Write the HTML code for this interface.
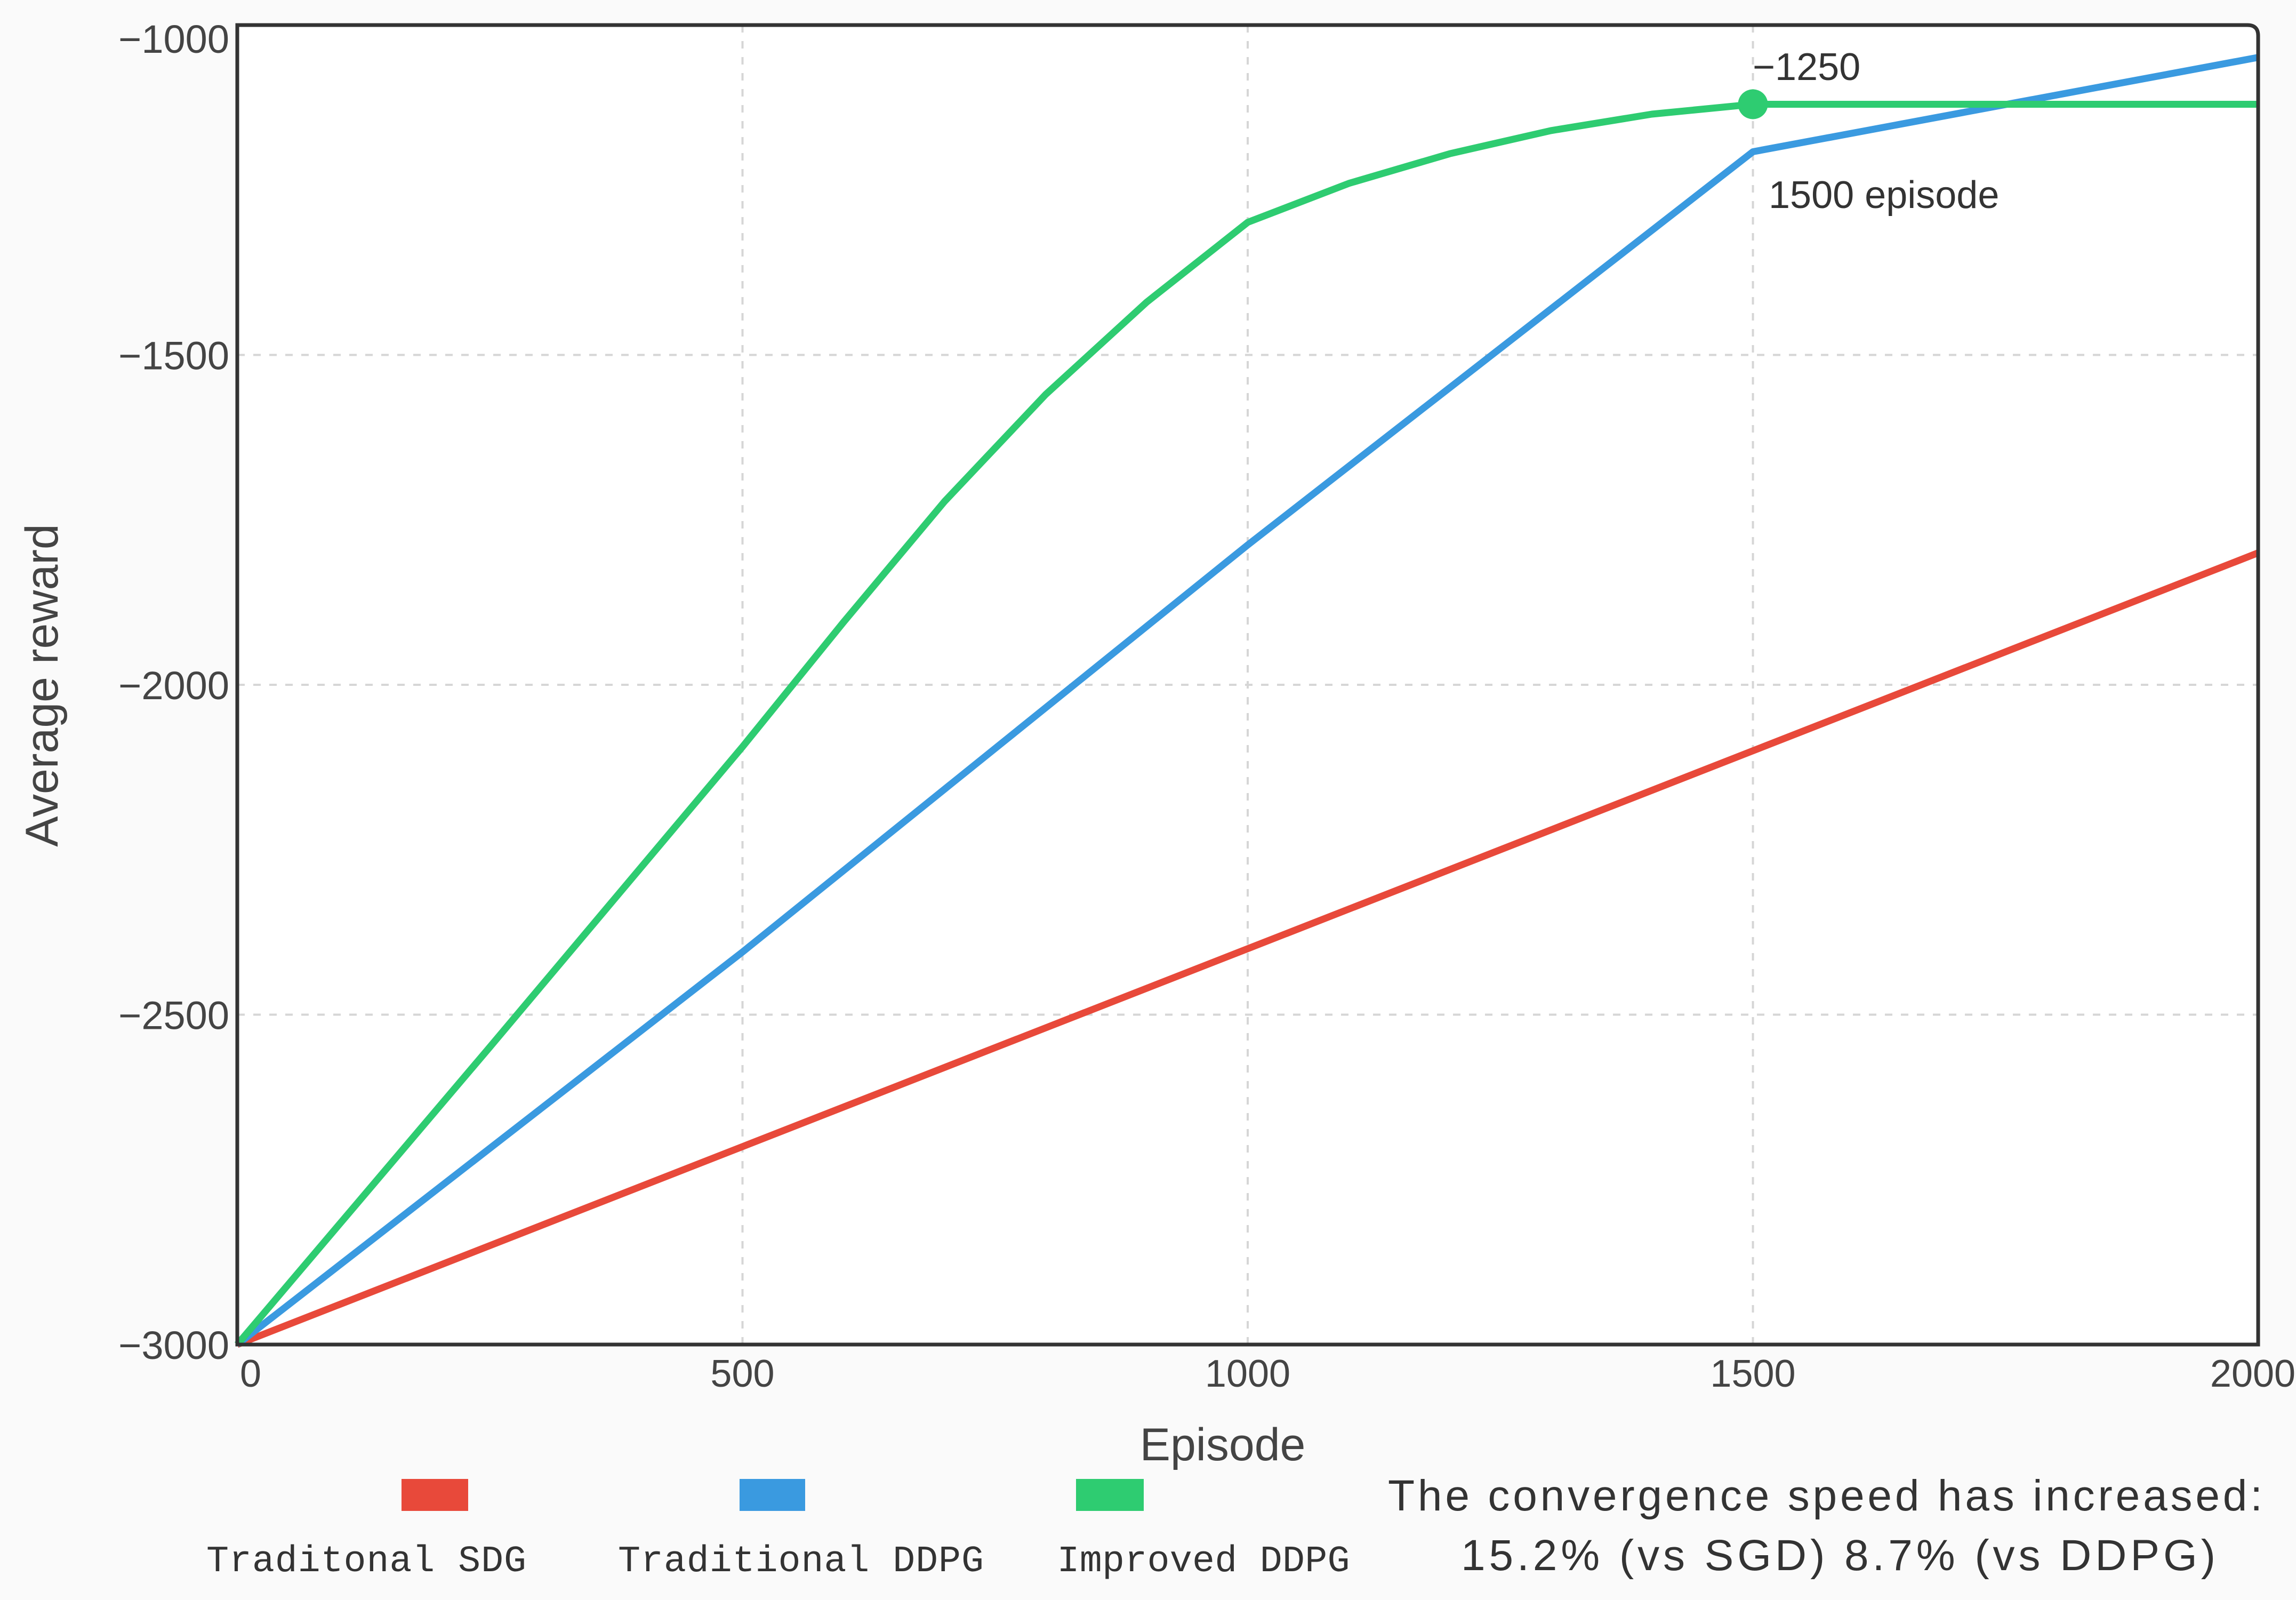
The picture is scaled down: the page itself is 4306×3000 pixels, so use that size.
<!DOCTYPE html>
<html><head><meta charset="utf-8"><style>
html,body{margin:0;padding:0;background:#fafafa;}
svg{display:block;}
</style></head><body>
<svg id="chart" width="4306" height="3000" viewBox="0 0 4306 3000" xmlns="http://www.w3.org/2000/svg">
<rect x="0" y="0" width="4306" height="3000" fill="#fafafa"/>
<rect x="445" y="47" width="3790" height="2474" fill="#ffffff"/>
<g id="grid"></g>
<g id="series"></g>
<path d="M445,2521 L445,47 L4215,47 Q4235,47 4235,67 L4235,2521 Z" fill="none" stroke="#333" stroke-width="7"/>
<g id="ticks" font-family="'Liberation Sans', sans-serif" fill="#444"></g>
<text transform="translate(108,1285) rotate(-90)" text-anchor="middle" font-family="'Liberation Sans', sans-serif" font-size="86" fill="#444">Average reward</text>
<text x="2293" y="2738" text-anchor="middle" font-family="'Liberation Sans', sans-serif" font-size="86" fill="#444">Episode</text>
<text x="3287" y="150" font-family="'Liberation Sans', sans-serif" font-size="72" fill="#333">−1250</text>
<text x="3317" y="390" font-family="'Liberation Sans', sans-serif" font-size="72" fill="#333">1500 episode</text>
<g font-family="'Liberation Mono', monospace" font-size="70" fill="#333">
<rect x="753" y="2773" width="125" height="60" fill="#e8493a"/>
<text x="687" y="2946" text-anchor="middle" textLength="600">Traditonal SDG</text>
<rect x="1387" y="2773" width="123" height="60" fill="#3a9ae0"/>
<text x="1502" y="2946" text-anchor="middle" textLength="686">Traditional DDPG</text>
<rect x="2018" y="2773" width="127" height="60" fill="#2ecc71"/>
<text x="2257" y="2946" text-anchor="middle" textLength="549">Improved DDPG</text>
</g>
<g font-family="'Liberation Sans', sans-serif" font-size="82" fill="#333">
<text x="2603" y="2832" textLength="1640">The convergence speed has increased:</text>
<text x="2740" y="2944" textLength="1415">15.2%  (vs SGD)  8.7%  (vs DDPG)</text>
</g>
</svg>
<script>
const episodes = [0, 500, 1000, 1500, 2000];
const sgdValues = [-3000, -2700, -2400, -2100, -1800];
const ddpgValues = [-3000, -2405, -1788, -1192, -1049];
const improvedEpisodes = [0, 250, 500, 600, 700, 800, 900, 1000, 1100, 1200, 1300, 1400, 1500, 2000];
const improvedValues = [-3000, -2549, -2094, -1905, -1722, -1560, -1420, -1299, -1240, -1195, -1160, -1135, -1120, -1120];
const xTicks = [0, 500, 1000, 1500, 2000];
const yTicks = [-1000, -1500, -2000, -2500, -3000];
const markerEpisode = 1500;

const NS = 'http://www.w3.org/2000/svg';
const L = 445, R = 4235, T = 47, B = 2521;
const xS = v => L + (v - 0) / 2000 * (R - L);
const yS = v => B - (v + 3000) / 2000 * (B - T);

const grid = document.getElementById('grid');
xTicks.slice(1, -1).forEach(t => {
  const ln = document.createElementNS(NS, 'line');
  
  
  ln.setAttribute('x1', xS(t)); ln.setAttribute('x2', xS(t));
  ln.setAttribute('y1', T); ln.setAttribute('y2', B);
  ln.setAttribute('stroke', '#d6d6d6'); ln.setAttribute('stroke-width', '4');
  ln.setAttribute('stroke-dasharray', '14 16');
  grid.appendChild(ln);
});
yTicks.slice(1, -1).forEach(t => {
  const ln = document.createElementNS(NS, 'line');
  
  
  ln.setAttribute('x1', L); ln.setAttribute('x2', R);
  ln.setAttribute('y1', yS(t)); ln.setAttribute('y2', yS(t));
  ln.setAttribute('stroke', '#d6d6d6'); ln.setAttribute('stroke-width', '4');
  ln.setAttribute('stroke-dasharray', '14 16');
  grid.appendChild(ln);
});

const ticks = document.getElementById('ticks');
xTicks.forEach(t => {
  const tx = document.createElementNS(NS, 'text');
  
  
  tx.setAttribute('x', t === 0 ? xS(t) + 25 : (t === 2000 ? xS(t) - 10 : xS(t)));
  tx.setAttribute('y', 2600);
  tx.setAttribute('font-size', '72');
  tx.setAttribute('text-anchor', 'middle');
  tx.textContent = t;
  ticks.appendChild(tx);
});
yTicks.forEach(t => {
  const tx = document.createElementNS(NS, 'text');
  
  
  tx.setAttribute('x', 430);
  tx.setAttribute('y', yS(t) + (t === -1000 ? 52 : 27));
  tx.setAttribute('font-size', '74');
  tx.setAttribute('text-anchor', 'end');
  tx.textContent = '\u2212' + Math.abs(t);
  ticks.appendChild(tx);
});

function linePath(xs, ys) {
  return xs.map((x, i) => (i ? 'L' : 'M') + xS(x) + ',' + yS(ys[i])).join(' ');
}
const series = document.getElementById('series');
const s1 = document.createElementNS(NS, 'path');


s1.setAttribute('d', linePath(episodes, sgdValues));
s1.setAttribute('stroke', '#e8493a');
series.appendChild(s1);
const s2 = document.createElementNS(NS, 'path');


s2.setAttribute('d', linePath(episodes, ddpgValues));
s2.setAttribute('stroke', '#3a9ae0');
series.appendChild(s2);
const s3 = document.createElementNS(NS, 'path');


s3.setAttribute('d', linePath(improvedEpisodes, improvedValues));
s3.setAttribute('stroke', '#2ecc71');
series.appendChild(s3);
[s1, s2, s3].forEach(s => { s.setAttribute('fill', 'none'); s.setAttribute('stroke-width', '13'); s.setAttribute('stroke-linejoin', 'round'); });
const mi = improvedEpisodes.indexOf(markerEpisode);
const mk = document.createElementNS(NS, 'circle');


mk.setAttribute('cx', xS(markerEpisode));
mk.setAttribute('cy', yS(improvedValues[mi]));
mk.setAttribute('r', '28');
mk.setAttribute('fill', '#2ecc71');
series.appendChild(mk);
</script>
</body></html>
